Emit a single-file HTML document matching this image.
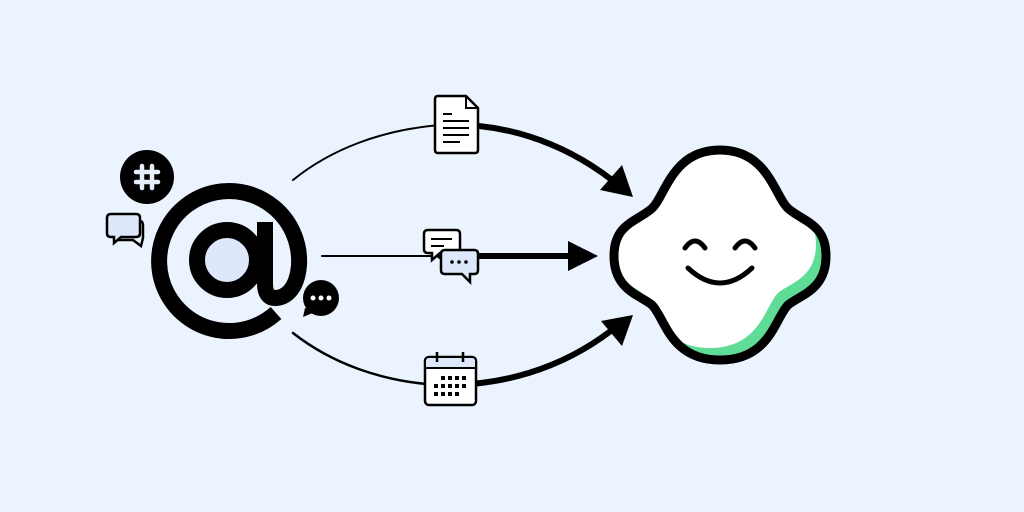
<!DOCTYPE html>
<html><head><meta charset="utf-8"><style>
html,body{margin:0;padding:0;background:#ebf3fe;}
svg{display:block}
</style></head><body>
<svg width="1024" height="512" viewBox="0 0 1024 512" xmlns="http://www.w3.org/2000/svg">
<rect width="1024" height="512" fill="#ebf3fe"/>
<defs>
<clipPath id="star"><path id="sp" d="M720,150 C770,150 775,200 790,210 C805,222 826,225 826,256 C826,290 800,295 788,305 C775,318 770,360 720,360 C670,360 665,318 652,305 C640,295 614,290 614,256 C614,225 635,222 650,210 C665,200 670,150 720,150 Z"/></clipPath>
</defs>

<g fill="none" stroke="#000" stroke-linecap="round">
<path d="M293,180 C330,150 380,130 440,125" stroke-width="2"/>
<path d="M440,125 C500,122 560,140 612,180" stroke-width="6"/>
<path d="M322,256 L440,256" stroke-width="2"/>
<path d="M440,256 L575,256" stroke-width="6"/>
<path d="M293,333 C330,362 380,382 440,385" stroke-width="2.5"/>
<path d="M440,385 C500,386 560,370 612,330" stroke-width="6"/>
</g>
<g fill="#000">
<polygon points="633,197 600,190 622,165"/>
<polygon points="598,256 568,241 568,271"/>
<polygon points="633,315 601,321 622,346"/>
</g>

<!-- @ drawn -->
<g fill="none" stroke="#000" stroke-width="16" stroke-linecap="butt">
<path d="M276,313 A70,70 0 1 1 299,265 C297,290 285,298 275,298 C268,298 265,292 265,284 L265,222"/>
<circle cx="227" cy="260" r="30" fill="#dde9fb"/>
</g>

<!-- slack -->
<circle cx="147" cy="177" r="27" fill="#000"/>
<g stroke="#e6eefb" stroke-width="4.5" stroke-linecap="round">
<line x1="142" y1="166" x2="142" y2="188"/>
<line x1="152" y1="166" x2="152" y2="188"/>
<line x1="136" y1="172" x2="158" y2="172"/>
<line x1="136" y1="182" x2="158" y2="182"/>
</g>

<path d="M114,237 L114,243 L121,237 L136,237 Q140,237 140,233 L140,218 Q140,214 136,214 L111,214 Q107,214 107,218 L107,233 Q107,237 111,237 Z" fill="#dde9fb" stroke="#000" stroke-width="2.5"/>
<path d="M141,221 Q143,222 143,226 L143,238 L141,246 L133,240 L118,240" fill="none" stroke="#000" stroke-width="2.5"/>

<circle cx="321" cy="298" r="18" fill="#000"/>
<polygon points="305,308 303,317 315,312" fill="#000"/>
<circle cx="313" cy="298" r="2.5" fill="#fff"/><circle cx="321" cy="298" r="2.5" fill="#fff"/><circle cx="329" cy="298" r="2.5" fill="#fff"/>

<path d="M438,96 L466,96 L478,108 L478,150 Q478,153 475,153 L438,153 Q435,153 435,150 L435,99 Q435,96 438,96 Z" fill="#fff" stroke="#000" stroke-width="2.5"/>
<path d="M466,96 L466,108 L478,108" fill="none" stroke="#000" stroke-width="2"/>
<g stroke="#000" stroke-width="2"><line x1="443" y1="114" x2="452" y2="114"/><line x1="443" y1="121" x2="469" y2="121"/><line x1="443" y1="128" x2="469" y2="128"/><line x1="443" y1="135" x2="469" y2="135"/><line x1="443" y1="142" x2="460" y2="142"/></g>

<path d="M428,230 L456,230 Q460,230 460,234 L460,249 Q460,253 456,253 L440,253 L432,260 L432,253 L428,253 Q424,253 424,249 L424,234 Q424,230 428,230 Z" fill="#fff" stroke="#000" stroke-width="2.5"/>
<g stroke="#000" stroke-width="2"><line x1="431" y1="239" x2="452" y2="239"/><line x1="431" y1="246" x2="444" y2="246"/></g>
<path d="M445,250 L474,250 Q478,250 478,254 L478,270 Q478,274 474,274 L470,274 L470,282 L462,274 L445,274 Q441,274 441,270 L441,254 Q441,250 445,250 Z" fill="#dde9fb" stroke="#000" stroke-width="2.5"/>
<circle cx="452" cy="262" r="1.8"/><circle cx="459" cy="262" r="1.8"/><circle cx="466" cy="262" r="1.8"/>

<rect x="425" y="357" width="51" height="48" rx="4" fill="#fff" stroke="#000" stroke-width="2.5"/>
<path d="M426,368 L426,361 Q426,358 429,358 L472,358 Q475,358 475,361 L475,368 Z" fill="#dde9fb"/>
<line x1="425" y1="368" x2="476" y2="368" stroke="#000" stroke-width="2"/>
<line x1="437" y1="352" x2="437" y2="362" stroke="#000" stroke-width="2.5"/>
<line x1="463" y1="352" x2="463" y2="362" stroke="#000" stroke-width="2.5"/>
<g fill="#000">
<rect x="441" y="376" width="4" height="4"/><rect x="448" y="376" width="4" height="4"/><rect x="455" y="376" width="4" height="4"/><rect x="462" y="376" width="4" height="4"/>
<rect x="434" y="384" width="4" height="4"/><rect x="441" y="384" width="4" height="4"/><rect x="448" y="384" width="4" height="4"/><rect x="455" y="384" width="4" height="4"/><rect x="462" y="384" width="4" height="4"/>
<rect x="434" y="392" width="4" height="4"/><rect x="441" y="392" width="4" height="4"/><rect x="448" y="392" width="4" height="4"/><rect x="455" y="392" width="4" height="4"/>
</g>

<g clip-path="url(#star)">
<rect x="600" y="140" width="240" height="230" fill="#5fdc96"/>
<use href="#sp" fill="#fff" transform="translate(-10,-12)"/>
</g>
<use href="#sp" fill="none" stroke="#000" stroke-width="9"/>
<g fill="none" stroke="#000" stroke-width="5" stroke-linecap="round">
<path d="M685,248 Q695,234 705,248"/>
<path d="M735,248 Q745,234 755,248"/>
<path d="M688,268 Q720,298 752,268"/>
</g>
</svg>
</body></html>
